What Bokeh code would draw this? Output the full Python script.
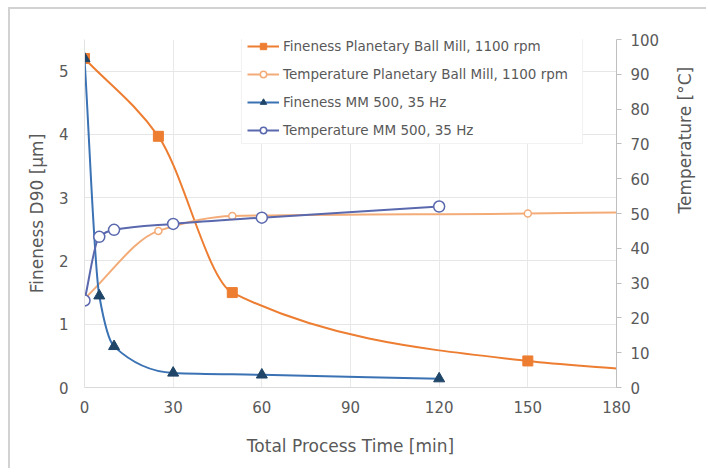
import math
from bokeh.plotting import figure
from bokeh.models import Range1d, LinearAxis, FixedTicker, Legend, LegendItem, ColumnDataSource
from bokeh.embed import file_html
from bokeh.resources import INLINE

# ---------------- data ----------------
x_ticks = [0, 30, 60, 90, 120, 150, 180]
fineness_ticks = [0, 1, 2, 3, 4, 5]
temp_ticks = [0, 10, 20, 30, 40, 50, 60, 70, 80, 90, 100]

# Planetary Ball Mill, 1100 rpm (measured points)
pbm_time = [0, 25, 50, 150]
pbm_fineness = [5.2, 3.97, 1.5, 0.42]
pbm_temp = [25.5, 45.0, 49.3, 50.0]
# the smoothed curves run on to the axis end
pbm_end_time = 180
pbm_fineness_end = 0.3
pbm_temp_end = 50.3

# MM 500, 35 Hz
mm_time = [0, 5, 10, 30, 60, 120]
mm_fineness = [5.2, 1.45, 0.65, 0.23, 0.2, 0.14]
mm_temp = [25.0, 43.3, 45.3, 47.0, 48.8, 52.0]

labels = [
    "Fineness Planetary Ball Mill, 1100 rpm",
    "Temperature Planetary Ball Mill, 1100 rpm",
    "Fineness MM 500, 35 Hz",
    "Temperature MM 500, 35 Hz",
]
x_title = "Total Process Time [min]"
left_title = "Fineness D90 [µm]"
right_title = "Temperature [°C]"

FONT = "DejaVu Sans"
TXT = "#595959"
NAN = float("nan")


def smooth_segments(xs, ys):
    """Monotone cubic (PCHIP-style) curve through the data points, as Bezier segments."""
    n = len(xs)
    h = [xs[i + 1] - xs[i] for i in range(n - 1)]
    d = [(ys[i + 1] - ys[i]) / h[i] for i in range(n - 1)]
    m = [0.0] * n
    m[0] = d[0]
    m[-1] = d[-1]
    for i in range(1, n - 1):
        if d[i - 1] * d[i] <= 0:
            m[i] = 0.0
        else:
            w1 = 2 * h[i] + h[i - 1]
            w2 = h[i] + 2 * h[i - 1]
            m[i] = (w1 + w2) / (w1 / d[i - 1] + w2 / d[i])
    out = dict(x0=[], y0=[], x1=[], y1=[], cx0=[], cy0=[], cx1=[], cy1=[])
    for i in range(n - 1):
        out["x0"].append(xs[i]); out["y0"].append(ys[i])
        out["x1"].append(xs[i + 1]); out["y1"].append(ys[i + 1])
        out["cx0"].append(xs[i] + h[i] / 3.0)
        out["cy0"].append(ys[i] + m[i] * h[i] / 3.0)
        out["cx1"].append(xs[i + 1] - h[i] / 3.0)
        out["cy1"].append(ys[i + 1] - m[i + 1] * h[i] / 3.0)
    return ColumnDataSource(out)


p = figure(
    width=698, height=461,
    x_range=Range1d(0, 180), y_range=Range1d(0, 5.5),
    output_backend="svg", toolbar_location=None,
    min_border_left=74, min_border_right=92, min_border_top=30, min_border_bottom=83,
)
p.styles = {
    "margin-left": "8px", "margin-top": "7px",
    "border-top": "2px solid #D2D2D2", "border-left": "2px solid #D2D2D2",
}
p.extra_y_ranges = {"temp": Range1d(0, 100)}
p.outline_line_color = None
p.background_fill_color = "white"
p.border_fill_color = "white"

# axes
xa = p.xaxis[0]
xa.ticker = FixedTicker(ticks=x_ticks)
xa.axis_label = x_title
xa.axis_line_color = "#D9D9D9"
xa.major_tick_line_color = None
xa.major_tick_out = 0
xa.minor_tick_line_color = None
xa.major_label_standoff = 13
xa.axis_label_standoff = 20

ya = p.yaxis[0]
ya.ticker = FixedTicker(ticks=fineness_ticks)
ya.axis_label = left_title
ya.axis_line_color = "#E2E2E2"
ya.major_tick_line_color = None
ya.major_tick_out = 0
ya.minor_tick_line_color = None
ya.major_label_standoff = 16
ya.axis_label_standoff = 9

ra = LinearAxis(y_range_name="temp", ticker=FixedTicker(ticks=temp_ticks))
ra.axis_line_color = "#BFBFBF"
ra.major_tick_line_color = "#BFBFBF"
ra.major_tick_out = 5
ra.major_tick_in = 0
ra.minor_tick_line_color = None
ra.major_label_standoff = 9
ra.axis_label = right_title
ra.axis_label_standoff = 23
if "axis_label_orientation" in ra.properties():
    # read bottom to top, as in the original
    ra.axis_label_orientation = math.pi / 2
p.add_layout(ra, "right")

for ax in (xa, ya, ra):
    ax.major_label_text_font = FONT
    ax.major_label_text_font_size = "15px"
    ax.major_label_text_color = TXT
    ax.axis_label_text_font = FONT
    ax.axis_label_text_font_size = "17px"
    ax.axis_label_text_color = TXT
    ax.axis_label_text_font_style = "normal"

p.xgrid.ticker = FixedTicker(ticks=x_ticks)
p.xgrid.grid_line_color = "#E9E9E9"
p.ygrid.ticker = FixedTicker(ticks=fineness_ticks)
p.ygrid.grid_line_color = "#E6E6E6"

# colours
C_PF = "#ED7D31"
C_PT = "#F3AC78"
C_MF_LINE = "#3A72B4"
C_MF_MARK = "#1F4568"
C_MT = "#5A68AE"

# series 1: fineness planetary
s1 = smooth_segments(pbm_time + [pbm_end_time], pbm_fineness + [pbm_fineness_end])
p.bezier("x0", "y0", "x1", "y1", "cx0", "cy0", "cx1", "cy1", source=s1, line_color=C_PF, line_width=2)
l1 = p.line(x=[NAN], y=[NAN], line_color=C_PF, line_width=2)
m1 = p.scatter(pbm_time, pbm_fineness, marker="square", size=10, fill_color=C_PF, line_color=C_PF)

# series 2: temperature planetary
s2 = smooth_segments(pbm_time + [pbm_end_time], pbm_temp + [pbm_temp_end])
p.bezier("x0", "y0", "x1", "y1", "cx0", "cy0", "cx1", "cy1", source=s2, line_color=C_PT, line_width=2,
         y_range_name="temp")
l2 = p.line(x=[NAN], y=[NAN], line_color=C_PT, line_width=2, y_range_name="temp")
m2 = p.scatter(pbm_time, pbm_temp, marker="circle", size=7, fill_color="white", line_color=C_PT,
               line_width=1.5, y_range_name="temp")

# series 3: fineness MM 500
s3 = smooth_segments(mm_time, mm_fineness)
p.bezier("x0", "y0", "x1", "y1", "cx0", "cy0", "cx1", "cy1", source=s3, line_color=C_MF_LINE, line_width=2)
l3 = p.line(x=[NAN], y=[NAN], line_color=C_MF_LINE, line_width=2)
m3 = p.scatter(mm_time, mm_fineness, marker="triangle", size=11, fill_color=C_MF_MARK, line_color=C_MF_MARK)

# series 4: temperature MM 500
s4 = smooth_segments(mm_time, mm_temp)
p.bezier("x0", "y0", "x1", "y1", "cx0", "cy0", "cx1", "cy1", source=s4, line_color=C_MT, line_width=2,
         y_range_name="temp")
l4 = p.line(x=[NAN], y=[NAN], line_color=C_MT, line_width=2, y_range_name="temp")
m4 = p.scatter(mm_time, mm_temp, marker="circle", size=11, fill_color="white", line_color=C_MT,
               line_width=1.5, y_range_name="temp")

legend = Legend(
    items=[
        LegendItem(label=labels[0], renderers=[l1, m1]),
        LegendItem(label=labels[1], renderers=[l2, m2]),
        LegendItem(label=labels[2], renderers=[l3, m3]),
        LegendItem(label=labels[3], renderers=[l4, m4]),
    ],
    location=(157, 243),
    label_text_font=FONT, label_text_font_size="13.5px", label_text_color=TXT,
    glyph_width=32, glyph_height=16, label_height=16, label_standoff=4, label_width=294,
    spacing=12, padding=5, margin=0,
    border_line_color="#E6E6E6", border_line_width=1,
    background_fill_color="white", background_fill_alpha=1.0,
)
p.add_layout(legend)

open("out.html", "w").write(file_html(p, INLINE))
